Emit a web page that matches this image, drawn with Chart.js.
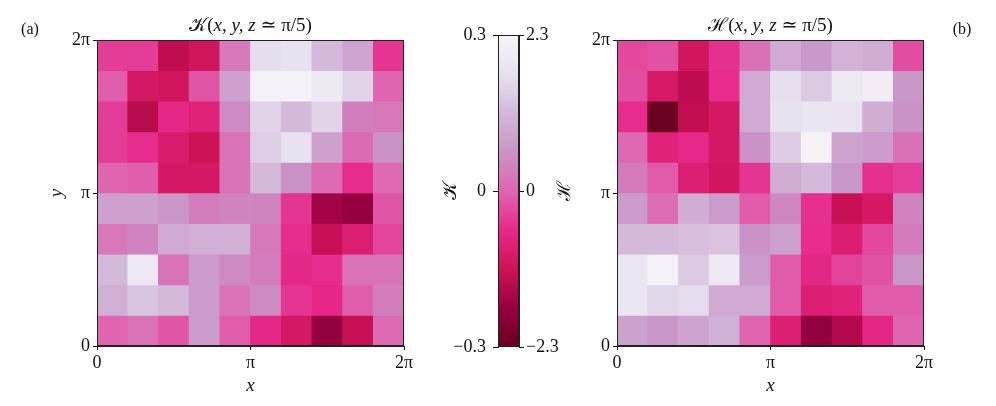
<!DOCTYPE html>
<html>
<head>
<meta charset="utf-8">
<script src="https://cdn.jsdelivr.net/npm/chart.js@4.4.1/dist/chart.umd.min.js"></script>
<style>
  html, body { margin: 0; padding: 0; background: #fff; }
  body { width: 996px; height: 406px; position: relative; overflow: hidden; }
  .box { position: absolute; top: 0; height: 406px; }
  #boxK { left: 0; width: 440px; }
  #boxC { left: 430px; width: 150px; }
  #boxH { left: 580px; width: 416px; }
</style>
</head>
<body>
<div class="box" id="boxK"><canvas id="chartK"></canvas></div>
<div class="box" id="boxC"><canvas id="chartC"></canvas></div>
<div class="box" id="boxH"><canvas id="chartH"></canvas></div>
<script>
// grid values, top row (y near 2pi) first, columns x = 0 .. 2pi
const kRows = [
  [-0.05, -0.05, -0.17, -0.14,  0.03,  0.22,  0.23,  0.15,  0.11, -0.06],
  [-0.01, -0.13, -0.14, -0.02,  0.10,  0.29,  0.29,  0.26,  0.20,  0.00],
  [-0.05, -0.18, -0.08, -0.10,  0.06,  0.20,  0.15,  0.20,  0.04,  0.03],
  [-0.05, -0.07, -0.12, -0.15,  0.02,  0.19,  0.23,  0.10,  0.01,  0.07],
  [ 0.00, -0.01, -0.13, -0.13,  0.02,  0.15,  0.07,  0.01, -0.07,  0.01],
  [ 0.10,  0.10,  0.08,  0.04,  0.05,  0.05, -0.06, -0.21, -0.23, -0.02],
  [ 0.03,  0.05,  0.12,  0.13,  0.13,  0.03, -0.07, -0.16, -0.11, -0.04],
  [ 0.15,  0.25,  0.02,  0.09,  0.06,  0.04, -0.08, -0.07,  0.02,  0.02],
  [ 0.13,  0.17,  0.15,  0.09,  0.02,  0.06, -0.06, -0.08, -0.01,  0.04],
  [ 0.00,  0.02, -0.02,  0.09, -0.01, -0.08, -0.13, -0.23, -0.16,  0.01]
];
const hRows = [
  [-0.28, -0.18, -1.06, -0.51,  0.14,  0.92,  0.64,  1.06,  0.97, -0.23],
  [-0.23, -0.97, -1.33, -0.55,  0.92,  1.70,  1.38,  1.98,  2.07,  0.60],
  [-0.55, -2.25, -1.29, -1.01,  0.92,  1.75,  1.84,  1.79,  0.97,  0.55],
  [ 0.05, -0.74, -0.60, -1.01,  0.55,  1.43,  2.25,  0.83,  0.69,  0.14],
  [ 0.28, -0.09, -0.83, -1.06, -0.46,  0.97,  1.15,  0.60, -0.51, -0.37],
  [ 0.69,  0.09,  0.97,  0.69, -0.09,  0.41, -0.51, -1.20, -1.01,  0.37],
  [ 1.15,  1.15,  1.24,  1.29,  0.55,  0.78, -0.55, -0.87, -0.28,  0.28],
  [ 1.89,  2.21,  1.38,  1.98,  0.69, -0.09, -0.64, -0.32, -0.18,  0.60],
  [ 1.89,  1.56,  1.66,  0.92,  0.92, -0.09, -0.83, -0.74, -0.09, -0.09],
  [ 0.78,  0.60,  0.83,  1.01,  0.00, -0.83, -1.79, -1.43, -0.64,  0.00]
];
const kRange = [-0.3, 0.3];
const hRange = [-2.3, 2.3];
const piTicks = [0, Math.PI, 2 * Math.PI];
const piLabels = ['0', 'π', '2π'];
const kTicks = [-0.3, 0, 0.3];
const kTickLabels = ['−0.3', '0', '0.3'];
const hTicks = [-2.3, 0, 2.3];
const hTickLabels = ['−2.3', '0', '2.3'];

// PuRd reversed: dark at low end, white at high end
const cmapStops = ['#67001f', '#980043', '#ce1256', '#e7298a', '#df65b0', '#c994c7', '#d4b9da', '#e7e1ef', '#f7f4f9'];

const SERIF = '"Liberation Serif", "DejaVu Serif", serif';
const INK = '#111';

function hexRgb(h) {
  return [parseInt(h.slice(1, 3), 16), parseInt(h.slice(3, 5), 16), parseInt(h.slice(5, 7), 16)];
}
function cmap(t) {
  t = Math.max(0, Math.min(1, t));
  const n = cmapStops.length - 1;
  const i = Math.min(n - 1, Math.floor(t * n));
  const f = t * n - i;
  const a = hexRgb(cmapStops[i]), b = hexRgb(cmapStops[i + 1]);
  const c = a.map((v, k) => Math.round(v + (b[k] - v) * f));
  return 'rgb(' + c.join(',') + ')';
}

function cellDatasets(rows, range) {
  const n = rows.length;
  const step = 2 * Math.PI / n;
  return rows.map((row, r) => {
    const j = n - 1 - r;
    return {
      data: row.map(() => [j * step, (j + 1) * step]),
      backgroundColor: row.map(v => cmap((v - range[0]) / (range[1] - range[0]))),
      borderWidth: 0,
      grouped: false,
      barPercentage: 1,
      categoryPercentage: 1
    };
  });
}

// free text drawn around the axes
function drawRuns(ctx, runs, x, y, size, rot) {
  ctx.save();
  ctx.translate(x, y);
  if (rot) ctx.rotate(rot);
  ctx.textBaseline = 'middle';
  ctx.textAlign = 'left';
  ctx.fillStyle = INK;
  let w = 0;
  runs.forEach(r => {
    ctx.font = (r[1] ? 'italic ' : '') + size + 'px ' + SERIF;
    w += ctx.measureText(r[0]).width;
  });
  let cx = -w / 2;
  runs.forEach(r => {
    ctx.font = (r[1] ? 'italic ' : '') + size + 'px ' + SERIF;
    ctx.fillText(r[0], cx, 0);
    cx += ctx.measureText(r[0]).width;
  });
  ctx.restore();
}

const notesPlugin = {
  id: 'notes',
  afterDraw(chart, args, opts) {
    const ctx = chart.ctx;
    const a = chart.chartArea;
    if (opts.frame) {
      ctx.save();
      ctx.strokeStyle = '#222';
      ctx.lineWidth = 1;
      ctx.strokeRect(Math.round(a.left) + 0.5, Math.round(a.top) + 0.5,
        Math.round(a.right - a.left) - 1, Math.round(a.bottom - a.top) - 1);
      ctx.restore();
    }
    (opts.items || []).forEach(it => {
      const p = it.at(a);
      drawRuns(ctx, it.runs, p[0], p[1], it.size, it.rot || 0);
    });
  }
};

function fixedTicks(values) {
  return s => { s.ticks = values.map(v => ({ value: v })); };
}

const tickFont = { family: SERIF, size: 18 };

function heatmap(id, rows, range, padding, items) {
  return new Chart(document.getElementById(id), {
    type: 'bar',
    data: { labels: rows[0].map((_, i) => i), datasets: cellDatasets(rows, range) },
    options: {
      responsive: true,
      maintainAspectRatio: false,
      animation: false,
      layout: { padding: padding },
      plugins: { legend: { display: false }, tooltip: { enabled: false }, notes: { frame: true, items: items } },
      scales: {
        x: { display: false, offset: true },
        xt: {
          type: 'linear', position: 'bottom', min: 0, max: 2 * Math.PI, offset: false,
          afterBuildTicks: fixedTicks(piTicks),
          afterFit(s) { s.height = 40; },
          grid: { offset: false, drawOnChartArea: false, drawTicks: true, tickLength: 4, color: INK },
          border: { display: true, color: '#222' },
          ticks: { font: tickFont, color: INK, padding: 2, maxRotation: 0, autoSkip: false,
            callback: v => piLabels[piTicks.indexOf(v)] }
        },
        y: {
          type: 'linear', min: 0, max: 2 * Math.PI,
          afterBuildTicks: fixedTicks(piTicks),
          afterFit(s) { s.width = 36; },
          grid: { drawOnChartArea: false, drawTicks: true, tickLength: 4, color: INK },
          border: { display: true, color: '#222' },
          ticks: { font: tickFont, color: INK, padding: 3,
            callback: v => piLabels[piTicks.indexOf(v)] }
        }
      }
    },
    plugins: [notesPlugin]
  });
}

heatmap('chartK', kRows, kRange, { left: 61, right: 36, top: 40, bottom: 20 }, [
  { runs: [['𝒦(', false], ['x, y, z', true], [' ≃ π/5)', false]], size: 19, at: a => [(a.left + a.right) / 2, a.top - 14] },
  { runs: [['(a)', false]], size: 16, at: a => [30, 30] },
  { runs: [['y', true]], size: 19, rot: -Math.PI / 2, at: a => [57, (a.top + a.bottom) / 2] },
  { runs: [['x', true]], size: 19, at: a => [(a.left + a.right) / 2, 386] }
]);

heatmap('chartH', hRows, hRange, { left: 1, right: 72, top: 40, bottom: 20 }, [
  { runs: [['ℋ(', false], ['x, y, z', true], [' ≃ π/5)', false]], size: 19, at: a => [(a.left + a.right) / 2, a.top - 14] },
  { runs: [['(b)', false]], size: 16, at: a => [382, 30] },
  { runs: [['x', true]], size: 19, at: a => [(a.left + a.right) / 2, 386] }
]);

// colour bar: one floating bar spanning the K range, filled with the colormap
new Chart(document.getElementById('chartC'), {
  type: 'bar',
  data: {
    labels: ['c'],
    datasets: [{
      data: [kRange],
      yAxisID: 'yk',
      borderWidth: 0,
      barPercentage: 1,
      categoryPercentage: 1,
      backgroundColor(ctx) {
        const a = ctx.chart.chartArea;
        if (!a) return '#ccc';
        const g = ctx.chart.ctx.createLinearGradient(0, a.bottom, 0, a.top);
        for (let i = 0; i <= 64; i++) g.addColorStop(i / 64, cmap(i / 64));
        return g;
      }
    }]
  },
  options: {
    responsive: true,
    maintainAspectRatio: false,
    animation: false,
    layout: { padding: { left: 22, right: 15, top: 35, bottom: 59 } },
    plugins: {
      legend: { display: false }, tooltip: { enabled: false },
      notes: { frame: true, items: [
        { runs: [['𝒦', false]], size: 19, rot: -Math.PI / 2, at: a => [21, (a.top + a.bottom) / 2] },
        { runs: [['ℋ', false]], size: 19, rot: -Math.PI / 2, at: a => [135, (a.top + a.bottom) / 2] }
      ] }
    },
    scales: {
      x: { display: false },
      yk: {
        type: 'linear', position: 'left', min: kRange[0], max: kRange[1],
        afterBuildTicks: fixedTicks(kTicks),
        afterFit(s) { s.width = 46; },
        grid: { drawOnChartArea: false, drawTicks: true, tickLength: 5, color: INK },
        border: { display: true, color: '#222' },
        ticks: { font: tickFont, color: INK, padding: 7,
          callback: v => kTickLabels[kTicks.findIndex(t => Math.abs(t - v) < 1e-9)] }
      },
      yh: {
        type: 'linear', position: 'right', min: hRange[0], max: hRange[1],
        afterBuildTicks: fixedTicks(hTicks),
        afterFit(s) { s.width = 46; },
        grid: { drawOnChartArea: false, drawTicks: true, tickLength: 5, color: INK },
        border: { display: true, color: '#222' },
        ticks: { font: tickFont, color: INK, padding: 2,
          callback: v => hTickLabels[hTicks.findIndex(t => Math.abs(t - v) < 1e-9)] }
      }
    }
  },
  plugins: [notesPlugin]
});
</script>
</body>
</html>
